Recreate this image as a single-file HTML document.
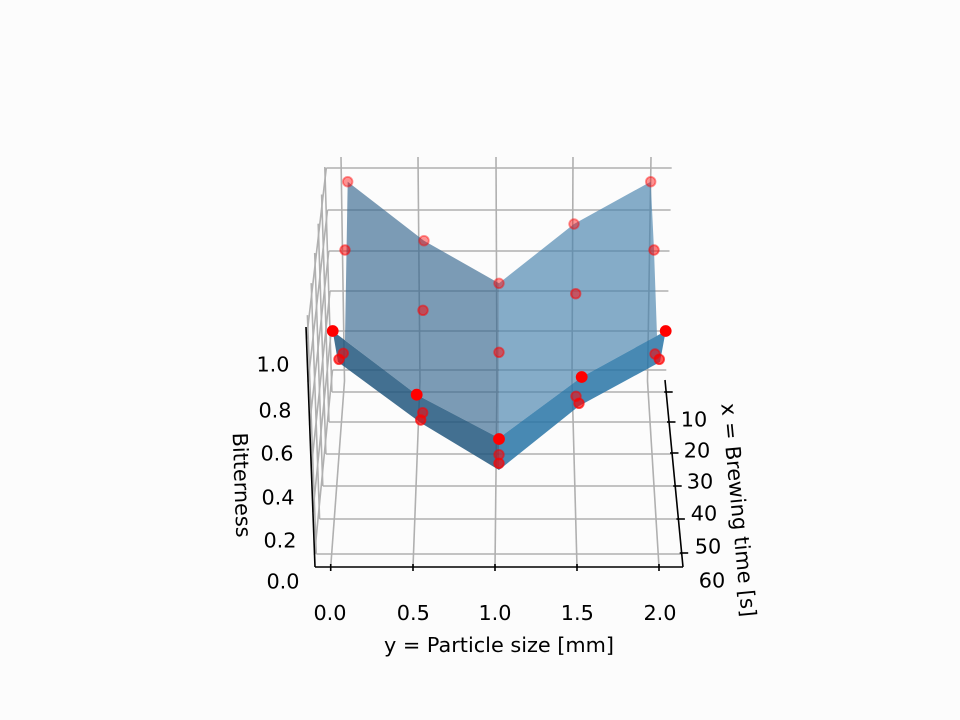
<!DOCTYPE html>
<html><head><meta charset="utf-8">
<style>html,body{margin:0;padding:0;background:#fcfcfc}svg{display:block}text{font-family:"DejaVu Sans","Liberation Sans",sans-serif;fill:#000}</style>
</head>
<body>
<svg width="960" height="720" viewBox="0 0 960 720" xmlns="http://www.w3.org/2000/svg">
<rect width="960" height="720" fill="#fcfcfc"/>
<g stroke="#b0b0b0" stroke-width="1.6" fill="none">
  <!-- back wall horizontal (z) gridlines -->
  <line x1="326.3" y1="168" x2="671.7" y2="168"/>
  <line x1="327.5" y1="210" x2="670.6" y2="210"/>
  <line x1="328.8" y1="251" x2="669.5" y2="251"/>
  <line x1="330" y1="291" x2="668.4" y2="291"/>
  <line x1="331.2" y1="331" x2="667.3" y2="331"/>
  <line x1="332.5" y1="370" x2="666.3" y2="370"/>
  <!-- back wall vertical (y) gridlines -->
  <line x1="341" y1="157" x2="344.5" y2="381"/>
  <line x1="418" y1="157" x2="420" y2="381"/>
  <line x1="496" y1="157" x2="497" y2="381"/>
  <line x1="573" y1="157" x2="572" y2="381"/>
  <line x1="651" y1="157" x2="647.5" y2="381"/>
  <!-- floor y gridlines -->
  <line x1="344.5" y1="381" x2="330.7" y2="567"/>
  <line x1="420" y1="381" x2="413" y2="567"/>
  <line x1="497" y1="381" x2="495" y2="567"/>
  <line x1="572" y1="381" x2="577" y2="567"/>
  <line x1="647.5" y1="381" x2="659" y2="567"/>
  <!-- floor x gridlines -->
  <line x1="331.9" y1="392" x2="667" y2="392"/>
  <line x1="329" y1="422" x2="669.7" y2="422"/>
  <line x1="325.9" y1="454" x2="672.7" y2="454"/>
  <line x1="322.8" y1="486" x2="675.6" y2="486"/>
  <line x1="319.6" y1="519" x2="678.6" y2="519"/>
  <line x1="316.3" y1="554" x2="681.8" y2="554"/>
  <!-- left wall x gridlines -->
  <line x1="331.9" y1="392" x2="324.8" y2="167"/>
  <line x1="329" y1="422" x2="321.6" y2="194.5"/>
  <line x1="325.9" y1="454" x2="318.2" y2="223.7"/>
  <line x1="322.8" y1="486" x2="314.7" y2="253"/>
  <line x1="319.6" y1="519" x2="311.2" y2="283.1"/>
  <line x1="316.3" y1="554" x2="307.4" y2="315.1"/>
  <!-- left wall z gridlines -->
  <line x1="332.5" y1="370" x2="314.5" y2="555"/>
  <line x1="331.2" y1="331" x2="312.9" y2="512"/>
  <line x1="330" y1="291" x2="311.3" y2="468"/>
  <line x1="328.8" y1="251" x2="309.6" y2="425"/>
  <line x1="327.5" y1="210" x2="308" y2="382"/>
  <line x1="326.3" y1="168" x2="306.5" y2="339"/>
</g>

<!-- surfaces -->
<polygon points="347.7,181.7 424,240.7 499,283.3 499,438 416.7,394.7 345,340.3" fill="rgb(54,103,143)" fill-opacity="0.65"/>
<polygon points="499,283.3 574,224 650.7,181.7 654,250 657,335.8 581.7,377 499,438" fill="rgb(69,129,172)" fill-opacity="0.65"/>
<polygon points="332.7,331 416.7,394.7 499,438 499,470 421,423 338,362" fill="rgb(34,87,126)" fill-opacity="0.85"/>
<polygon points="665.7,331 581.7,377 499,438 499,470 579,406 660,362" fill="rgb(40,116,166)" fill-opacity="0.85"/>

<!-- axes lines -->
<g stroke="#000" stroke-width="1.6" fill="none">
  <line x1="306" y1="327" x2="315" y2="567"/>
  <line x1="315" y1="567" x2="683" y2="567"/>
  <line x1="665" y1="380" x2="683" y2="567"/>
  <!-- y ticks -->
  <line x1="330.7" y1="564" x2="330.7" y2="571"/>
  <line x1="413" y1="564" x2="413" y2="571"/>
  <line x1="495" y1="564" x2="495" y2="571"/>
  <line x1="577" y1="564" x2="577" y2="571"/>
  <line x1="659" y1="564" x2="659" y2="571"/>
  <!-- x ticks -->
  <line x1="664.2" y1="392" x2="672.7" y2="392"/>
  <line x1="667" y1="422" x2="675.5" y2="422"/>
  <line x1="670" y1="453" x2="678.5" y2="453"/>
  <line x1="673.2" y1="486" x2="681.7" y2="486"/>
  <line x1="676.4" y1="519" x2="684.9" y2="519"/>
  <line x1="679.7" y1="553" x2="688.2" y2="553"/>
</g>

<!-- markers -->
<g fill="#ff0000" stroke="#ff0000" stroke-width="1.8">
  <!-- back row -->
  <g fill-opacity="0.42" stroke-opacity="0.42">
    <circle cx="347.7" cy="181.7" r="4.8"/>
    <circle cx="424" cy="240.7" r="4.8"/>
    <circle cx="499" cy="283.3" r="4.8"/>
    <circle cx="574" cy="224" r="4.8"/>
    <circle cx="650.7" cy="181.7" r="4.8"/>
  </g>
  <!-- middle row -->
  <g fill-opacity="0.5" stroke-opacity="0.5">
    <circle cx="345" cy="250" r="4.8"/>
    <circle cx="423" cy="310.3" r="4.8"/>
    <circle cx="499" cy="352.3" r="4.8"/>
    <circle cx="575.7" cy="293.7" r="4.8"/>
    <circle cx="654" cy="250" r="4.8"/>
  </g>
  <!-- lower a -->
  <g fill-opacity="0.55" stroke-opacity="0.55">
    <circle cx="343.3" cy="353.3" r="4.8"/>
    <circle cx="422.7" cy="412.7" r="4.8"/>
    <circle cx="499" cy="454.7" r="4.8"/>
    <circle cx="576" cy="396.3" r="4.8"/>
    <circle cx="655" cy="354" r="4.8"/>
  </g>
  <!-- lower b -->
  <g fill-opacity="0.68" stroke-opacity="0.68">
    <circle cx="339" cy="359.3" r="4.8"/>
    <circle cx="420.7" cy="420" r="4.8"/>
    <circle cx="499" cy="463.3" r="4.8"/>
    <circle cx="579" cy="403.3" r="4.8"/>
    <circle cx="659.3" cy="359.3" r="4.8"/>
  </g>
  <!-- front row opaque -->
  <g>
    <circle cx="332.7" cy="331" r="5"/>
    <circle cx="416.7" cy="394.7" r="5"/>
    <circle cx="499" cy="439" r="5"/>
    <circle cx="581.7" cy="377" r="5"/>
    <circle cx="665.7" cy="331" r="5"/>
  </g>
</g>

<!-- tick labels -->
<g font-size="20.8" text-anchor="middle">
  <text x="330" y="620">0.0</text>
  <text x="413.3" y="620">0.5</text>
  <text x="495" y="620">1.0</text>
  <text x="577.3" y="620">1.5</text>
  <text x="660" y="620">2.0</text>

  <text x="273" y="371.6">1.0</text>
  <text x="275" y="417.6">0.8</text>
  <text x="277" y="460.6">0.6</text>
  <text x="278" y="504.6">0.4</text>
  <text x="280" y="547.6">0.2</text>
  <text x="283" y="588.6">0.0</text>

  <text x="694" y="426.6">10</text>
  <text x="697" y="457.6">20</text>
  <text x="700" y="488.6">30</text>
  <text x="704" y="520.6">40</text>
  <text x="708" y="553.6">50</text>
  <text x="712" y="587.6">60</text>
</g>

<!-- axis labels -->
<text x="499" y="652" font-size="20.8" text-anchor="middle">y = Particle size [mm]</text>
<text x="234.5" y="485.3" font-size="20.8" text-anchor="middle" transform="rotate(87.9 234.5 485.3)">Bitterness</text>
<text x="731.5" y="510.7" font-size="20.8" text-anchor="middle" transform="rotate(84.5 731.5 510.7)">x = Brewing time [s]</text>
</svg>
</body></html>
